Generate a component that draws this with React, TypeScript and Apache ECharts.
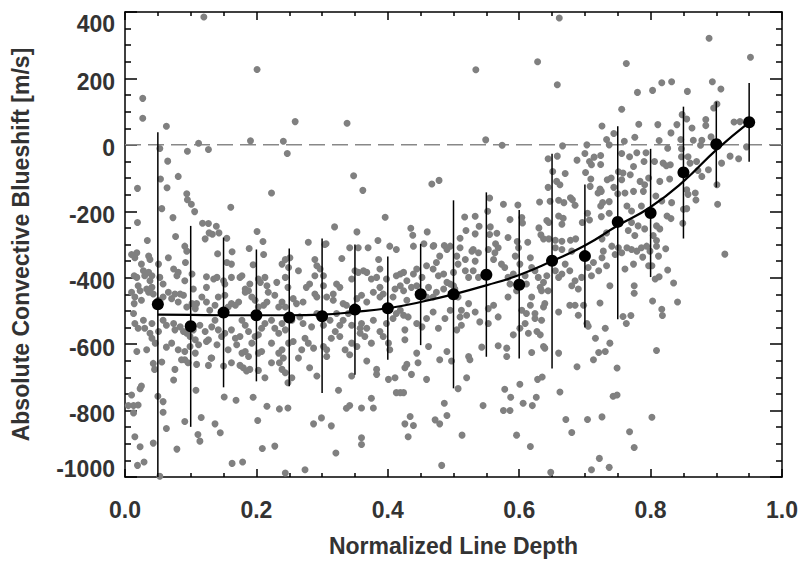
import React, { useEffect, useRef } from "react";
import * as echarts from "echarts";

// Individual line measurements: [normalized line depth, convective blueshift m/s]
const scatterPoints: number[][] = [
  [0.120,385],[0.201,227],[0.027,140],[0.027,80],[0.063,56],[0.112,5],[0.191,12],[0.241,11],[0.053,-11],[0.095,-19],
  [0.127,-14],[0.247,-26],[0.065,-49],[0.081,-95],[0.054,-103],[0.019,-131],[0.064,-129],[0.094,-147],[0.095,-165],[0.101,-179],
  [0.223,-145],[0.056,-192],[0.106,-201],[0.161,-188],[0.073,-219],[0.019,-234],[0.118,-236],[0.127,-237],[0.139,-245],[0.128,-265],
  [0.133,-269],[0.143,-265],[0.201,-261],[0.077,-276],[0.122,-283],[0.155,-281],[0.034,-288],[0.210,-291],
  [0.259,70],[0.338,65],[0.348,-93],[0.362,-137],[0.467,-118],[0.478,-107],[0.396,-218],[0.319,-247],[0.353,-262],[0.435,-251],
  [0.438,-272],[0.460,-262],[0.279,-293],[0.306,-298],[0.385,-288],[0.455,-298],[0.470,-303],[0.486,-303],
  [0.661,382],[0.534,226],[0.628,250],[0.658,181],[0.726,57],[0.549,15],[0.574,-1],[0.666,-3],[0.703,0],[0.733,16],
  [0.737,0],[0.744,34],[0.644,-42],[0.658,-34],[0.700,-26],[0.688,-46],[0.714,-37],[0.724,-32],[0.707,-50],[0.710,-60],
  [0.724,-59],[0.651,-80],[0.670,-86],[0.701,-83],[0.751,-81],[0.657,-110],[0.662,-120],[0.709,-103],[0.644,-128],[0.708,-125],
  [0.734,-105],[0.740,-100],[0.723,-133],[0.725,-140],[0.720,-145],[0.744,-128],[0.555,-160],[0.576,-179],[0.598,-181],[0.631,-172],
  [0.647,-170],[0.660,-167],[0.668,-174],[0.678,-159],[0.681,-165],[0.685,-182],[0.727,-174],[0.724,-184],[0.737,-171],[0.750,-147],
  [0.552,-200],[0.517,-217],[0.533,-215],[0.586,-225],[0.604,-219],[0.605,-235],[0.642,-228],[0.645,-234],[0.660,-214],[0.667,-221],
  [0.665,-239],[0.696,-234],[0.704,-206],[0.707,-226],[0.725,-216],[0.737,-206],[0.519,-258],[0.539,-245],[0.533,-268],[0.556,-247],
  [0.555,-270],[0.566,-266],[0.630,-250],[0.633,-271],[0.637,-283],[0.510,-281],[0.583,-279],[0.597,-291],[0.613,-293],[0.645,-283],
  [0.655,-287],[0.665,-290],[0.678,-287],[0.686,-283],[0.726,-283],[0.733,-265],[0.564,-298],
  [0.889,321],[0.952,264],[0.763,245],[0.817,187],[0.832,190],[0.780,158],[0.803,164],[0.856,161],[0.894,190],[0.907,168],
  [0.756,107],[0.896,111],[0.901,123],[0.848,91],[0.855,78],[0.884,76],[0.884,58],[0.782,62],[0.811,61],[0.840,61],
  [0.927,69],[0.936,70],[0.863,51],[0.831,36],[0.776,23],[0.760,11],[0.756,-26],[0.813,13],[0.826,-10],[0.846,16],
  [0.847,-12],[0.865,14],[0.878,14],[0.876,-1],[0.892,24],[0.946,-6],[0.921,-34],[0.934,-42],[0.908,-55],[0.768,-36],
  [0.779,-24],[0.793,-24],[0.774,-65],[0.790,-50],[0.806,-50],[0.819,-55],[0.824,-63],[0.830,-60],[0.847,-36],[0.857,-36],
  [0.860,-55],[0.870,-50],[0.872,-77],[0.878,-95],[0.888,-75],[0.814,-110],[0.829,-103],[0.758,-85],[0.756,-105],[0.769,-90],
  [0.784,-110],[0.797,-100],[0.791,-120],[0.901,-120],[0.902,-179],[0.855,-135],[0.857,-149],[0.868,-145],[0.869,-166],[0.774,-140],
  [0.761,-145],[0.789,-140],[0.808,-154],[0.817,-169],[0.832,-174],[0.850,-194],[0.855,-192],[0.786,-184],[0.764,-184],[0.771,-199],
  [0.825,-214],[0.831,-222],[0.849,-236],[0.771,-234],[0.781,-244],[0.791,-253],[0.809,-244],[0.814,-253],[0.766,-258],[0.776,-273],
  [0.804,-273],[0.809,-288],
  [0.010,-330],[0.018,-325],[0.015,-340],[0.025,-359],[0.036,-335],[0.038,-345],[0.051,-359],[0.066,-340],[0.091,-305],[0.094,-320],
  [0.092,-354],[0.141,-328],[0.155,-354],[0.163,-322],[0.162,-359],[0.189,-312],[0.195,-361],[0.211,-330],[0.244,-345],[0.239,-359],
  [0.249,-369],[0.014,-394],[0.018,-399],[0.020,-424],[0.028,-379],[0.030,-394],[0.036,-384],[0.038,-409],[0.041,-394],[0.053,-399],
  [0.058,-419],[0.074,-374],[0.079,-394],[0.081,-384],[0.091,-409],[0.102,-389],[0.104,-434],[0.124,-397],[0.124,-429],[0.135,-404],
  [0.140,-399],[0.150,-409],[0.152,-419],[0.162,-399],[0.175,-399],[0.178,-394],[0.183,-434],[0.190,-419],[0.203,-404],[0.206,-414],
  [0.213,-399],[0.216,-424],[0.231,-414],[0.244,-399],[0.248,-429],[0.010,-444],[0.014,-478],[0.015,-458],[0.025,-468],[0.023,-439],
  [0.033,-434],[0.036,-444],[0.041,-429],[0.043,-449],[0.051,-468],[0.058,-458],[0.066,-444],[0.071,-463],[0.076,-449],[0.081,-473],
  [0.084,-449],[0.089,-453],[0.094,-488],[0.102,-478],[0.109,-478],[0.107,-493],[0.117,-458],[0.124,-473],[0.129,-498],[0.137,-483],
  [0.142,-458],[0.152,-453],[0.157,-488],[0.162,-478],[0.168,-483],[0.173,-473],[0.183,-444],[0.188,-439],[0.193,-458],[0.198,-468],
  [0.203,-488],[0.211,-483],[0.216,-473],[0.218,-444],[0.228,-453],[0.234,-488],[0.239,-473],[0.244,-488],[0.013,-508],[0.015,-538],
  [0.020,-552],[0.028,-528],[0.030,-552],[0.038,-567],[0.041,-538],[0.051,-562],[0.058,-528],[0.063,-543],[0.074,-538],[0.076,-557],
  [0.084,-548],[0.089,-562],[0.094,-567],[0.099,-577],[0.104,-557],[0.107,-587],[0.112,-602],[0.114,-543],[0.122,-562],[0.127,-587],
  [0.132,-548],[0.137,-528],[0.142,-557],[0.147,-577],[0.152,-567],[0.162,-557],[0.168,-582],[0.170,-602],[0.175,-577],[0.178,-528],
  [0.183,-543],[0.188,-562],[0.193,-597],[0.198,-577],[0.203,-572],[0.208,-552],[0.213,-538],[0.223,-528],[0.228,-552],[0.234,-567],
  [0.239,-538],[0.244,-557],[0.018,-622],[0.033,-617],[0.041,-582],[0.046,-597],[0.063,-609],[0.071,-597],[0.081,-617],[0.091,-622],
  [0.099,-607],[0.107,-627],[0.124,-592],[0.132,-642],[0.140,-602],[0.157,-617],[0.162,-656],[0.178,-627],[0.183,-622],[0.188,-637],
  [0.203,-627],[0.208,-622],[0.223,-597],[0.234,-627],[0.239,-617],[0.241,-642],[0.249,-597],[0.043,-658],[0.045,-676],[0.056,-654],
  [0.076,-676],[0.074,-708],[0.086,-647],[0.091,-647],[0.096,-656],[0.109,-661],[0.127,-664],[0.131,-642],[0.150,-666],[0.175,-664],
  [0.180,-671],[0.185,-681],[0.190,-676],[0.203,-679],[0.213,-701],[0.223,-656],[0.235,-656],[0.239,-676],[0.244,-686],[0.248,-716],
  [0.010,-753],[0.025,-726],[0.023,-734],[0.050,-757],[0.058,-773],[0.058,-805],[0.005,-785],[0.013,-785],[0.020,-783],[0.013,-807],
  [0.063,-854],[0.108,-739],[0.151,-759],[0.169,-769],[0.195,-760],[0.216,-787],[0.235,-795],[0.248,-792],[0.091,-833],[0.116,-821],
  [0.137,-840],[0.145,-867],[0.111,-872],[0.114,-892],[0.015,-879],[0.023,-909],[0.043,-898],[0.079,-916],[0.209,-914],[0.228,-907],
  [0.202,-830],[0.019,-965],[0.029,-955],[0.163,-959],[0.179,-955],[0.244,-988],[0.053,-998],
  [0.251,-340],[0.264,-379],[0.289,-345],[0.292,-364],[0.297,-374],[0.289,-394],[0.281,-419],[0.302,-394],[0.302,-424],[0.304,-300],
  [0.330,-342],[0.342,-310],[0.355,-310],[0.370,-310],[0.350,-379],[0.345,-404],[0.355,-384],[0.363,-379],[0.368,-384],[0.375,-404],
  [0.383,-399],[0.386,-345],[0.388,-374],[0.398,-404],[0.403,-305],[0.413,-315],[0.413,-394],[0.419,-389],[0.424,-384],[0.429,-409],
  [0.439,-389],[0.444,-374],[0.452,-399],[0.459,-364],[0.469,-374],[0.474,-354],[0.477,-394],[0.479,-335],[0.485,-389],[0.490,-315],
  [0.495,-305],[0.500,-384],[0.469,-305],[0.439,-305],[0.256,-463],[0.261,-478],[0.271,-473],[0.276,-429],[0.289,-449],[0.292,-458],
  [0.307,-458],[0.317,-468],[0.317,-449],[0.322,-419],[0.327,-429],[0.332,-478],[0.337,-483],[0.353,-463],[0.360,-453],[0.368,-473],
  [0.378,-444],[0.388,-458],[0.388,-429],[0.393,-449],[0.408,-458],[0.411,-434],[0.419,-424],[0.419,-498],[0.424,-439],[0.429,-468],
  [0.436,-429],[0.444,-424],[0.459,-458],[0.462,-429],[0.469,-458],[0.474,-444],[0.485,-434],[0.490,-414],[0.495,-419],[0.500,-424],
  [0.254,-528],[0.266,-518],[0.271,-538],[0.284,-548],[0.292,-508],[0.302,-543],[0.312,-528],[0.322,-508],[0.327,-543],[0.332,-528],
  [0.340,-508],[0.345,-543],[0.358,-552],[0.360,-538],[0.368,-552],[0.378,-528],[0.388,-562],[0.398,-538],[0.408,-523],[0.413,-508],
  [0.424,-513],[0.431,-518],[0.426,-557],[0.444,-538],[0.452,-548],[0.459,-523],[0.469,-503],[0.477,-552],[0.487,-523],[0.495,-498],
  [0.256,-592],[0.269,-617],[0.274,-582],[0.279,-597],[0.287,-612],[0.302,-607],[0.307,-617],[0.314,-582],[0.320,-562],[0.327,-577],
  [0.335,-617],[0.342,-632],[0.345,-597],[0.353,-607],[0.358,-567],[0.365,-577],[0.375,-597],[0.393,-577],[0.401,-597],[0.403,-617],
  [0.426,-587],[0.444,-627],[0.446,-656],[0.462,-607],[0.479,-647],[0.490,-622],[0.497,-651],[0.264,-642],[0.281,-671],[0.292,-696],
  [0.307,-637],[0.345,-696],[0.368,-651],[0.383,-676],[0.383,-691],[0.401,-706],[0.411,-701],[0.426,-671],[0.429,-661],[0.436,-691],
  [0.459,-706],[0.254,-701],[0.325,-739],[0.413,-746],[0.419,-746],[0.424,-746],[0.375,-763],[0.337,-793],[0.342,-785],[0.360,-792],
  [0.378,-792],[0.299,-822],[0.287,-840],[0.314,-846],[0.434,-818],[0.426,-840],[0.439,-845],[0.431,-879],[0.472,-828],[0.479,-840],
  [0.486,-778],[0.490,-815],[0.360,-882],[0.360,-902],[0.321,-928],[0.274,-978],[0.482,-965],
  [0.505,-335],[0.507,-359],[0.510,-310],[0.518,-345],[0.528,-320],[0.530,-315],[0.538,-325],[0.533,-350],[0.530,-379],[0.538,-399],
  [0.518,-379],[0.523,-399],[0.553,-315],[0.563,-325],[0.561,-345],[0.568,-310],[0.573,-359],[0.578,-369],[0.583,-399],[0.586,-419],
  [0.591,-389],[0.594,-335],[0.601,-359],[0.599,-310],[0.609,-394],[0.611,-419],[0.617,-340],[0.619,-369],[0.624,-379],[0.629,-399],
  [0.632,-429],[0.634,-439],[0.637,-414],[0.642,-394],[0.644,-439],[0.655,-379],[0.660,-399],[0.665,-389],[0.670,-359],[0.677,-379],
  [0.680,-424],[0.685,-409],[0.690,-434],[0.695,-399],[0.705,-369],[0.710,-394],[0.713,-354],[0.721,-379],[0.726,-340],[0.728,-320],
  [0.733,-364],[0.738,-424],[0.741,-305],[0.746,-330],[0.751,-310],[0.680,-320],[0.665,-315],[0.655,-310],[0.502,-434],[0.507,-458],
  [0.512,-498],[0.523,-478],[0.520,-513],[0.510,-518],[0.512,-543],[0.533,-503],[0.540,-533],[0.553,-538],[0.553,-493],[0.561,-483],
  [0.568,-518],[0.583,-458],[0.596,-439],[0.604,-498],[0.611,-508],[0.609,-538],[0.617,-483],[0.619,-458],[0.624,-508],[0.624,-523],
  [0.634,-528],[0.637,-488],[0.639,-478],[0.660,-503],[0.677,-483],[0.685,-483],[0.698,-483],[0.690,-513],[0.703,-538],[0.723,-476],
  [0.731,-552],[0.505,-557],[0.523,-637],[0.525,-647],[0.543,-609],[0.568,-605],[0.581,-612],[0.581,-637],[0.591,-572],[0.601,-552],
  [0.614,-567],[0.619,-625],[0.627,-562],[0.632,-572],[0.637,-607],[0.639,-612],[0.660,-627],[0.688,-668],[0.705,-546],[0.716,-582],
  [0.713,-647],[0.721,-625],[0.731,-622],[0.738,-597],[0.749,-672],[0.507,-734],[0.520,-701],[0.545,-785],[0.578,-736],[0.576,-800],
  [0.586,-800],[0.587,-760],[0.601,-721],[0.606,-778],[0.620,-785],[0.626,-760],[0.628,-706],[0.635,-699],[0.662,-744],[0.671,-827],
  [0.680,-866],[0.704,-827],[0.726,-819],[0.743,-757],[0.749,-753],[0.513,-874],[0.596,-874],[0.617,-908],[0.722,-944],[0.710,-978],
  [0.737,-971],[0.648,-986],
  [0.756,-325],[0.764,-310],[0.771,-315],[0.779,-320],[0.786,-310],[0.794,-305],[0.799,-320],[0.809,-305],[0.823,-313],[0.788,-338],
  [0.812,-335],[0.774,-359],[0.797,-364],[0.802,-364],[0.761,-374],[0.826,-377],[0.807,-404],[0.813,-397],[0.835,-416],[0.775,-424],
  [0.775,-447],[0.803,-470],[0.841,-473],[0.817,-495],[0.818,-514],[0.770,-514],[0.758,-517],[0.763,-538],[0.809,-619],[0.802,-820],
  [0.768,-864],[0.775,-911],[0.913,-329],
];

// Binned means with error bars
const binDepths = [0.05, 0.10, 0.15, 0.20, 0.25, 0.30, 0.35, 0.40, 0.45, 0.50, 0.55, 0.60, 0.65, 0.70, 0.75, 0.80, 0.85, 0.90, 0.95];
const binMeans = [-480, -546, -505, -513, -520, -516, -496, -492, -450, -450, -391, -421, -349, -335, -232, -205, -83, 2, 68];
const binLow = [-1000, -849, -730, -712, -727, -747, -692, -647, -603, -733, -638, -643, -673, -550, -525, -398, -282, -128, -51];
const binHigh = [38, -244, -279, -315, -312, -282, -300, -336, -298, -167, -143, -196, -27, -119, 56, -12, 115, 130, 186];

// Fitted curve sampled along depth
const fitDepths = [0.05, 0.10, 0.15, 0.20, 0.25, 0.30, 0.35, 0.40, 0.45, 0.50, 0.55, 0.60, 0.65, 0.70, 0.75, 0.80, 0.85, 0.90, 0.95];
const fitValues = [-511, -512, -513, -513, -513, -511, -503, -492, -473, -450, -423, -392, -350, -303, -243, -187, -110, -15, 68];

const xTicks = [0, 1, 0.2];
const yTicks = [-1000, 400, 200];

const FONT = "'Liberation Sans', Arial, Helvetica, sans-serif";
const FS = 23;
const TXT = "#333333";

export default function App() {
  const ref = useRef<HTMLDivElement>(null);
  useEffect(() => {
    if (!ref.current) return;
    const chart = echarts.init(ref.current, null, { renderer: "svg" });
    const tickStyle = { color: "#000", width: 1.5 };
    const textBase = { fontFamily: FONT, fontWeight: "bold", fontSize: FS, color: TXT };
    const baseX = (pos: "bottom" | "top", labels: boolean) => ({
      type: "value",
      position: pos,
      min: xTicks[0],
      max: xTicks[1],
      interval: xTicks[2],
      axisLine: { show: true, onZero: false, lineStyle: { color: "#000", width: 1.5 } },
      axisTick: { show: true, inside: true, length: 8, lineStyle: tickStyle },
      minorTick: { show: true, splitNumber: 4, length: 4, lineStyle: tickStyle },
      splitLine: { show: false },
      axisLabel: {
        show: labels,
        margin: 21,
        formatter: (v: number) => v.toFixed(1),
        ...textBase,
      },
      ...(labels
        ? {
            name: "Normalized Line Depth",
            nameLocation: "middle",
            nameGap: 57,
            nameTextStyle: textBase,
          }
        : {}),
    });
    const baseY = (pos: "left" | "right", labels: boolean) => ({
      type: "value",
      position: pos,
      min: yTicks[0],
      max: yTicks[1],
      interval: yTicks[2],
      axisLine: { show: true, onZero: false, lineStyle: { color: "#000", width: 1.5 } },
      axisTick: { show: true, inside: true, length: 12, lineStyle: tickStyle },
      minorTick: { show: true, splitNumber: 4, length: 6, lineStyle: tickStyle },
      splitLine: { show: false },
      axisLabel: {
        show: labels,
        margin: 10,
        formatter: (v: number) =>
          v === yTicks[1] ? `{top|${v}}` : v === yTicks[0] ? `{bot|${v}}` : `{mid|${v}}`,
        rich: {
          top: { ...textBase, padding: [24, 0, 0, 0] },
          bot: { ...textBase, padding: [0, 0, 16, 0] },
          mid: { ...textBase, padding: [7, 0, 0, 0] },
        },
        ...textBase,
      },
      ...(labels
        ? {
            name: "Absolute Convective Blueshift [m/s]",
            nameLocation: "middle",
            nameGap: 93,
            nameTextStyle: textBase,
          }
        : {}),
    });

    chart.setOption({
      animation: false,
      backgroundColor: "#ffffff",
      grid: { left: 125, top: 12, width: 657, height: 472, containLabel: false },
      xAxis: [baseX("bottom", true), baseX("top", false)],
      yAxis: [baseY("left", true), baseY("right", false)],
      series: [
        {
          type: "line",
          data: [[xTicks[0], 0], [xTicks[1], 0]],
          symbol: "none",
          silent: true,
          lineStyle: { color: "#888888", width: 1.5, type: [16, 7] },
          z: 1,
        },
        {
          type: "scatter",
          data: scatterPoints,
          symbol: "circle",
          symbolSize: 7,
          itemStyle: { color: "#808080", opacity: 1 },
          silent: true,
          clip: true,
          z: 2,
        },
        {
          type: "custom",
          data: binDepths.map((d, i) => [d, binLow[i], binHigh[i]]),
          clip: true,
          silent: true,
          z: 3,
          renderItem: (params: any, api: any) => {
            const p1 = api.coord([api.value(0), api.value(1)]);
            const p2 = api.coord([api.value(0), api.value(2)]);
            return {
              type: "line",
              shape: { x1: p1[0], y1: p1[1], x2: p2[0], y2: p2[1] },
              style: { stroke: "#000", lineWidth: 1.5 },
            };
          },
        },
        {
          type: "line",
          data: fitDepths.map((d, i) => [d, fitValues[i]]),
          smooth: true,
          symbol: "none",
          silent: true,
          lineStyle: { color: "#000", width: 2.2 },
          z: 4,
        },
        {
          type: "scatter",
          data: binDepths.map((d, i) => [d, binMeans[i]]),
          symbol: "circle",
          symbolSize: 12,
          itemStyle: { color: "#000", opacity: 1 },
          silent: true,
          z: 5,
        },
      ],
    });
    return () => chart.dispose();
  }, []);
  return (
    <div
      ref={ref}
      style={{ position: "fixed", left: 0, top: 0, width: 802, height: 562, background: "#fff" }}
    />
  );
}
